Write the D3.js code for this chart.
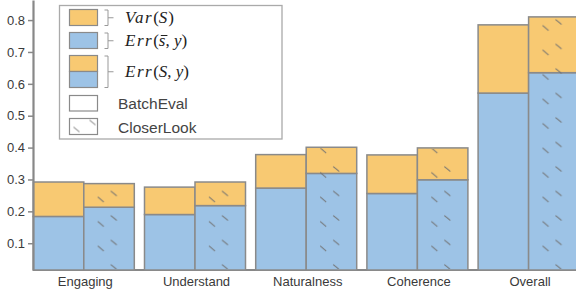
<!DOCTYPE html>
<html>
<head>
<meta charset="utf-8">
<script src="https://cdn.jsdelivr.net/npm/d3@7"></script>
<style>
  html, body { margin: 0; padding: 0; background: #fff; }
  svg { display: block; }
</style>
</head>
<body>
<svg id="chart" width="576" height="295"></svg>
<script>
// ---- data ----
const categories = ["Engaging", "Understand", "Naturalness", "Coherence", "Overall"];
const methods = ["BatchEval", "CloserLook"];
const batchErr  = [0.184, 0.190, 0.273, 0.256, 0.571];
const batchVar  = [0.108, 0.086, 0.105, 0.121, 0.214];
const closerErr = [0.213, 0.218, 0.319, 0.299, 0.635];
const closerVar = [0.074, 0.074, 0.082, 0.100, 0.175];
const yTicks = [0.1, 0.2, 0.3, 0.4, 0.5, 0.6, 0.7, 0.8];

const ORANGE = "#F8C972", BLUE = "#9DC3E6", EDGE = "#8a8a8a", AXIS = "#888", TEXT = "#3a3a3a";

const svg = d3.select("#chart");
const defs = svg.append("defs");

const x = d3.scaleBand().domain(categories).range([33.3, 579.1]).paddingInner(0.0917).paddingOuter(0);
const xs = d3.scaleBand().domain(methods).range([0, x.bandwidth()]);
const y = d3.scaleLinear().domain([0.016, 0.863]).range([270, 0]);

// hatch pattern for CloserLook bars (in each group's local coordinates)
const pat = defs.append("pattern").attr("id", "hatch")
  .attr("patternUnits", "userSpaceOnUse")
  .attr("x", xs("CloserLook")).attr("y", 15)
  .attr("width", xs.bandwidth()).attr("height", 24.5);
pat.append("line").attr("x1", 14).attr("y1", 10.5).attr("x2", 20).attr("y2", 15.5)
  .attr("stroke", "#707070").attr("stroke-width", 1);
pat.append("line").attr("x1", 27).attr("y1", 4.5).attr("x2", 33).attr("y2", 9.5)
  .attr("stroke", "#707070").attr("stroke-width", 1);

// x axis line (drawn first, bars cover it)
svg.append("line").attr("x1", 33).attr("x2", 576).attr("y1", 270).attr("y2", 270)
  .attr("stroke", AXIS).attr("stroke-width", 2);

// bars
const rows = categories.map((c, i) => ({
  cat: c,
  vals: [
    { m: "BatchEval", err: batchErr[i], v: batchVar[i] },
    { m: "CloserLook", err: closerErr[i], v: closerVar[i] }
  ]
}));
const g = svg.append("g");
const grp = g.selectAll("g.grp").data(rows).join("g").attr("class", "grp")
  .attr("transform", d => `translate(${x(d.cat)},0)`);
const bar = grp.selectAll("g.bar").data(d => d.vals).join("g").attr("class", "bar");
const base = y.domain()[0];
bar.append("rect")
  .attr("x", d => xs(d.m)).attr("width", xs.bandwidth())
  .attr("y", d => y(d.err)).attr("height", d => y(base) - y(d.err))
  .attr("fill", BLUE).attr("stroke", EDGE).attr("stroke-width", 1.5);
bar.append("rect")
  .attr("x", d => xs(d.m)).attr("width", xs.bandwidth())
  .attr("y", d => y(d.err + d.v)).attr("height", d => y(d.err) - y(d.err + d.v))
  .attr("fill", ORANGE).attr("stroke", EDGE).attr("stroke-width", 1.5);
bar.filter(d => d.m === "CloserLook").append("rect")
  .attr("x", d => xs(d.m) + 1).attr("width", xs.bandwidth() - 2)
  .attr("y", d => y(d.err + d.v) + 1).attr("height", d => y(base) - y(d.err + d.v) - 2)
  .attr("fill", "url(#hatch)");

// y axis
const yAxis = svg.append("g").attr("transform", "translate(33,0)")
  .call(d3.axisLeft(y).tickValues(yTicks).tickSize(5).tickSizeOuter(0).tickPadding(3).tickFormat(d3.format(".1f")));
yAxis.select(".domain").attr("stroke", AXIS).attr("stroke-width", 2.2);
yAxis.selectAll(".tick line").attr("stroke", AXIS).attr("stroke-width", 1.5);
yAxis.selectAll(".tick text").attr("fill", TEXT).attr("font-size", 13)
  .attr("font-family", "'Liberation Sans', Arial, sans-serif");

// x labels
const xAxis = svg.append("g").attr("transform", "translate(1.5,270)")
  .call(d3.axisBottom(x).tickSize(0).tickPadding(7));
xAxis.select(".domain").remove();
xAxis.selectAll(".tick text").attr("fill", TEXT).attr("font-size", 13)
  .attr("font-family", "'Liberation Sans', Arial, sans-serif");

// legend
const L = svg.append("g");
L.append("rect").attr("x", 59.5).attr("y", 5.5).attr("width", 222.5).attr("height", 133.5)
  .attr("fill", "#fff").attr("stroke", "#aaa").attr("stroke-width", 1.3);
const sw = (yy, h, fill) => L.append("rect").attr("x", 69.5).attr("y", yy).attr("width", 28).attr("height", h)
  .attr("fill", fill).attr("stroke", EDGE).attr("stroke-width", 1.2);
sw(9.5, 16, ORANGE);
sw(32.5, 16, BLUE);
sw(55.5, 16, ORANGE);
sw(71.5, 16, BLUE);
sw(95.5, 15.5, "#fff");
const lp = defs.append("pattern").attr("id", "hatchL").attr("patternUnits", "userSpaceOnUse")
  .attr("x", 69.5).attr("y", 118.5).attr("width", 28).attr("height", 16);
lp.append("line").attr("x1", 4).attr("y1", 8.5).attr("x2", 10).attr("y2", 13.5).attr("stroke", "#707070");
lp.append("line").attr("x1", 20).attr("y1", 1.5).attr("x2", 26).attr("y2", 6.5).attr("stroke", "#707070");
sw(118.5, 16, "#fff");
L.append("rect").attr("x", 70).attr("y", 119).attr("width", 27).attr("height", 15).attr("fill", "url(#hatchL)");

const brackets = [[10, 25.5], [33, 48.5], [56, 87.5]];
brackets.forEach(([a, b]) => {
  L.append("path").attr("d", `M104.5,${a}H108V${b}H104.5M108,${(a + b) / 2}H113.5`)
    .attr("fill", "none").attr("stroke", "#999").attr("stroke-width", 1);
});

const mathFont = "'Liberation Serif', 'DejaVu Serif', serif";
function mathLabel(yy, parts) {
  const t = L.append("text").attr("x", 125).attr("y", yy).attr("font-size", 17)
    .attr("font-family", mathFont).attr("fill", "#222");
  parts.forEach(p => t.append("tspan").attr("font-style", p[1] ? "italic" : "normal")
    .attr("letter-spacing", p[2] || 0).text(p[0]));
  return t;
}
mathLabel(23, [["Var", true, 1.5], ["(", false], ["S", true, 1], [")", false]]);
const errMean = mathLabel(46, [["Err", true, 1.5], ["(", false], ["s", true], [", ", false], ["y", true], [")", false]]);
mathLabel(77, [["Err", true, 1.5], ["(", false], ["S", true], [", ", false], ["y", true], [")", false]]);

// macron over the "s" (char index 4)
try {
  const n = errMean.node();
  const s0 = n.getStartPositionOfChar(4).x, s1 = n.getEndPositionOfChar(4).x;
  L.append("line").attr("x1", s0 + 2).attr("x2", s1 + 2).attr("y1", 35.5).attr("y2", 35.5)
    .attr("stroke", "#222").attr("stroke-width", 1);
} catch (e) {}

const legText = ["BatchEval", "CloserLook"];
L.selectAll("text.lt").data(legText).join("text").attr("class", "lt")
  .attr("x", 118).attr("y", (d, i) => 109 + i * 23.5)
  .attr("font-size", 15.5).attr("font-family", "'Liberation Sans', Arial, sans-serif")
  .attr("fill", "#444").text(d => d);
</script>
</body>
</html>
